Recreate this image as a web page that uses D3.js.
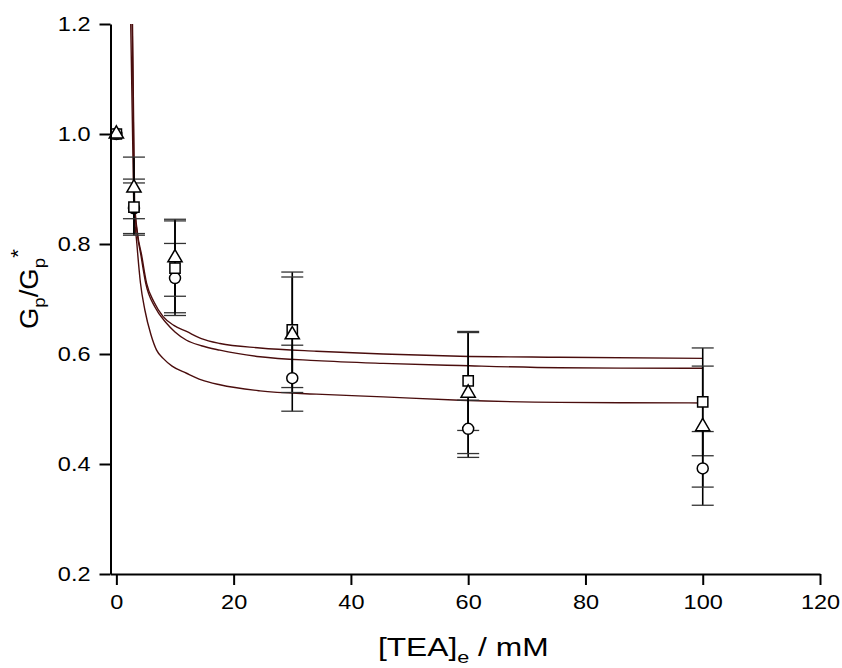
<!DOCTYPE html>
<html>
<head>
<meta charset="utf-8">
<script src="https://cdn.jsdelivr.net/npm/d3@7"></script>
<style>
  html, body { margin: 0; padding: 0; background: #fff; }
  svg { display: block; font-family: "Liberation Sans", Arial, sans-serif; }
</style>
</head>
<body>
<div id="chart"></div>
<script>
// ── Data ─────────────────────────────────────────────────────────────────────
const conc      = [0, 3, 10, 30, 60, 100];            // [TEA]e / mM

const triMean   = [1.0, 0.902, 0.775, 0.635, 0.529, 0.468];
const triErr    = [0, 0.056, 0.070, 0.105, 0.110, 0.110];
const sqMean    = [1.0, 0.867, 0.756, 0.644, 0.551, 0.513];
const sqErr     = [0, 0.051, 0.086, 0.105, 0.090, 0.098];
const circMean  = [1.0, 0.865, 0.738, 0.556, 0.464, 0.392];
const circErr   = [0, 0.046, 0.063, 0.060, 0.052, 0.067];

// fitted curves as [conc, value]
const fitTop = [[2.75,1.2],[3.1,0.88],[3.6,0.82],[4.3,0.78],[5.15,0.729],[6.4,0.695],
  [7.98,0.668],[9.8,0.652],[11.97,0.641],[14.5,0.628],[17.65,0.619],[24.5,0.611],
  [34.1,0.605],[45.5,0.600],[58.6,0.596],[75.6,0.594],[100,0.592]];
const fitMid = [[2.7,1.2],[3.05,0.88],[3.55,0.82],[4.18,0.78],[5.0,0.729],[6.6,0.685],
  [8.56,0.656],[10,0.640],[11.97,0.625],[14.5,0.615],[17.65,0.607],[24.5,0.595],
  [34.1,0.588],[45.5,0.583],[58.6,0.579],[75.6,0.575],[100,0.574]];
const fitLow = [[2.45,1.2],[2.95,0.88],[3.5,0.80],[4.1,0.73],[4.86,0.68],[5.9,0.635],
  [6.86,0.607],[7.98,0.592],[9.5,0.578],[11.97,0.565],[14.5,0.553],[17.65,0.544],
  [24.5,0.533],[34.1,0.527],[45.5,0.522],[58.6,0.516],[75.6,0.512],[100,0.511]];

const xTicks = [0, 20, 40, 60, 80, 100, 120];
const yTicks = [0.2, 0.4, 0.6, 0.8, 1.0, 1.2];

// ── Layout ───────────────────────────────────────────────────────────────────
const W = 842, H = 668;
const X0 = 110.5, X1 = 820, Y0 = 574, Y1 = 24;
const TICK_SX = 1.12;   // the original lettering is a little wide

const svg = d3.select('#chart').append('svg')
  .attr('width', W).attr('height', H);

const x = d3.scaleLinear().domain([-1, 120]).range([X0, X1]);
const y = d3.scaleLinear().domain([0.2, 1.2]).range([Y0, Y1]);

svg.append('clipPath').attr('id', 'plot')
  .append('rect').attr('x', X0).attr('y', Y1).attr('width', X1 - X0).attr('height', Y0 - Y1);

// ── Fit curves ───────────────────────────────────────────────────────────────
const line = d3.line()
  .x(d => x(d[0])).y(d => y(d[1]))
  .curve(d3.curveMonotoneX);

svg.append('g').attr('clip-path', 'url(#plot)')
  .selectAll('path')
  .data([fitTop, fitMid, fitLow])
  .join('path')
  .attr('d', line)
  .attr('fill', 'none')
  .attr('stroke', '#4a0d0d')
  .attr('stroke-width', 1.4);

// ── Error bars + markers ─────────────────────────────────────────────────────
const series = [
  { mean: circMean, err: circErr, sym: d3.symbolCircle,   size: 95 },
  { mean: sqMean,   err: sqErr,   sym: d3.symbolSquare,   size: 105 },
  { mean: triMean,  err: triErr,  sym: d3.symbolTriangle, size: 88 }
];
const CAP = 11;

const eb = svg.append('g');
series.forEach(s => {
  const pts = conc.map((c, i) => ({ c, m: s.mean[i], e: s.err[i] })).filter(d => d.e > 0);
  eb.selectAll(null).data(pts).join('line')
    .attr('x1', d => x(d.c)).attr('x2', d => x(d.c))
    .attr('y1', d => y(d.m + d.e)).attr('y2', d => y(d.m - d.e))
    .attr('stroke', '#000').attr('stroke-width', 1.6);
  ['+', '-'].forEach(sg => {
    eb.selectAll(null).data(pts).join('line')
      .attr('x1', d => x(d.c) - CAP).attr('x2', d => x(d.c) + CAP)
      .attr('y1', d => y(sg === '+' ? d.m + d.e : d.m - d.e))
      .attr('y2', d => y(sg === '+' ? d.m + d.e : d.m - d.e))
      .attr('stroke', '#333').attr('stroke-width', 1.3);
  });
});

const mk = svg.append('g');
series.forEach(s => {
  mk.selectAll(null).data(conc.map((c, i) => ({ c, m: s.mean[i] })))
    .join('path')
    .attr('transform', d => `translate(${x(d.c)},${y(d.m)})`)
    .attr('d', d3.symbol().type(s.sym).size(s.size)())
    .attr('fill', '#fff')
    .attr('stroke', '#000')
    .attr('stroke-width', 1.5);
});

// ── Axes ─────────────────────────────────────────────────────────────────────
const yAxis = svg.append('g')
  .attr('transform', `translate(${X0},0)`)
  .call(d3.axisLeft(y).tickValues(yTicks).tickFormat(d3.format('.1f'))
    .tickSize(11).tickSizeOuter(0).tickPadding(9));

const xAxis = svg.append('g')
  .attr('transform', `translate(0,${Y0})`)
  .call(d3.axisBottom(x).tickValues(xTicks).tickFormat(d3.format('d'))
    .tickSize(11).tickSizeOuter(0).tickPadding(9));

[yAxis, xAxis].forEach(a => {
  a.select('.domain').attr('stroke', '#000').attr('stroke-width', 2);
  a.selectAll('.tick line').attr('stroke', '#000').attr('stroke-width', 2);
  a.selectAll('.tick text')
    .attr('fill', '#000')
    .style('font-family', '"Liberation Sans", Arial, sans-serif')
    .style('font-size', '21px');
});
// widen tick lettering without moving its anchor
yAxis.selectAll('.tick text')
  .attr('x', 0)
  .attr('transform', `translate(-20,0) scale(${TICK_SX},1)`);
xAxis.selectAll('.tick text')
  .attr('transform', `scale(${TICK_SX},1)`);

// ── Axis titles ──────────────────────────────────────────────────────────────
const xt = svg.append('text')
  .attr('transform', `translate(${(X0 + X1) / 2 - 2},656) scale(1.27,1)`)
  .attr('text-anchor', 'middle')
  .style('font-size', '25px');
xt.append('tspan').text('[TEA]');
xt.append('tspan').attr('dy', 7).style('font-size', '17px').text('e');
xt.append('tspan').attr('dy', -7).text(' / mM');

const yt = svg.append('text')
  .attr('transform', `translate(38,${(Y0 + Y1) / 2 - 10}) rotate(-90) scale(1.1,1)`)
  .attr('text-anchor', 'middle')
  .style('font-size', '25px');
yt.append('tspan').text('G');
yt.append('tspan').attr('dy', 7).style('font-size', '17px').text('p');
yt.append('tspan').attr('dy', -7).text('/G');
yt.append('tspan').attr('dy', 7).style('font-size', '17px').text('p');
yt.append('tspan').attr('dy', -20).style('font-size', '21px').text('*');
</script>
</body>
</html>
